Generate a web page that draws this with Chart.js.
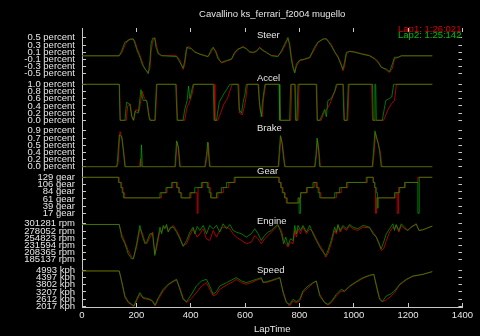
<!DOCTYPE html>
<html>
<head>
<meta charset="utf-8">
<script src="https://cdn.jsdelivr.net/npm/chart.js@4.4.0/dist/chart.umd.min.js"></script>
<style>
  html, body { margin: 0; padding: 0; background: #000; }
  canvas { display: block; }
</style>
</head>
<body>
<canvas id="lapChart" width="480" height="336"></canvas>
<script>
const chartTitle = 'Cavallino ks_ferrari_f2004 mugello';
const lapNames = ['Lap1: 1:26:021', 'Lap2: 1:25:142'];
const panelNames = ['Steer', 'Accel', 'Brake', 'Gear', 'Engine', 'Speed'];
const xTicks = [0, 200, 400, 600, 800, 1000, 1200, 1400];

// y ticks / labels per panel
const steerTicks = [-0.5, -0.3, -0.1, 0.1, 0.3, 0.5];
const steerLabels = ['-0.5 percent', '-0.3 percent', '-0.1 percent', '0.1 percent', '0.3 percent', '0.5 percent'];
const accelTicks = [0, 0.2, 0.4, 0.6, 0.8, 1.0];
const accelLabels = ['0.0 percent', '0.2 percent', '0.4 percent', '0.6 percent', '0.8 percent', '1.0 percent'];
const brakeTicks = [0, 0.18, 0.36, 0.54, 0.72, 0.9];
const brakeLabels = ['0.0 percent', '0.2 percent', '0.4 percent', '0.5 percent', '0.7 percent', '0.9 percent'];
const gearTicks = [17, 39.4, 61.8, 84.2, 106.6, 129];
const gearLabels = ['17 gear', '39 gear', '61 gear', '84 gear', '106 gear', '129 gear'];
const engineTicks = [185137, 208366, 231594, 254823, 278052, 301281];
const engineLabels = ['185137 rpm', '208365 rpm', '231594 rpm', '254823 rpm', '278052 rpm', '301281 rpm'];
const speedTicks = [2017, 2612.2, 3207.4, 3802.6, 4397.8, 4993];
const speedLabels = ['2017 kph', '2612 kph', '3207 kph', '3802 kph', '4397 kph', '4993 kph'];

// steer
const steerTime = [0,137,146,158,170,179,189,195,203,213, 223,232,244,250,254,260,268,272,281,293,
  348,360,372,378,385,391,403,415,434,452, 464,477,483,492,501,513,532,550,562,574,
  593,605,617,630,642,654,666,679,697,721, 734,746,758,764,770,777,783,789,801,819,
  838,856,868,887,899,917,930,942,954,960, 966,973,985,1003,1028,1058,1077,1089,1101,1120,
  1132,1142,1150,1163,1175,1289];
const steerLap1 = [0,0,0.08,0.3,0.45,0.45,0.46,0.4,0.2,0.02, -0.2,-0.38,-0.46,-0.35,0.1,0.4,0.5,0.35,0.08,0.01,
  0,-0.12,-0.38,-0.25,0.15,0.26,0.2,0.12,0.04,0.01, -0.02,0.12,0.22,0.15,-0.04,-0.2,-0.15,-0.1,0.06,0.17,
  0.26,0.2,0.12,0.08,0.12,0.24,0.16,0.08,0.01,-0.01, 0.1,0.28,0.47,0.36,0.02,-0.3,-0.45,-0.3,-0.14,-0.1,
  -0.06,0.18,0.36,0.46,0.48,0.32,0.12,-0.02,-0.22,-0.42, -0.3,0.05,0.13,0.11,0.06,0.01,-0.07,-0.15,-0.3,-0.4,
  -0.46,-0.35,-0.08,-0.05,0,0];
const steerLap2 = [0,0,0.14,0.38,0.42,0.47,0.47,0.33,0.14,-0.04, -0.27,-0.36,-0.5,-0.14,0.33,0.49,0.49,0.24,0.05,0,
  -0.02,-0.18,-0.34,-0.14,0.24,0.22,0.19,0.1,0.05,0, -0.02,0.19,0.24,0.1,-0.09,-0.18,-0.13,-0.09,0.1,0.19,
  0.24,0.19,0.1,0.1,0.14,0.22,0.14,0.1,0,-0.02, 0.14,0.33,0.51,0.28,-0.09,-0.36,-0.48,-0.23,-0.12,-0.09,
  -0.04,0.24,0.38,0.47,0.47,0.28,0.1,-0.04,-0.27,-0.37, -0.18,0.1,0.12,0.1,0.05,0,-0.09,-0.18,-0.32,-0.37,
  -0.44,-0.23,-0.04,-0.04,0,0];

// accel
const accelTime1 = [0,138,141,163,168,178,184,191,198,210, 222,230,240,248,252,270,276,347,352,378,
  386,395,404,412,486,489,500,510,522,535, 548,553,577,580,590,598,603,609,650,655,
  663,668,676,727,731,768,772,785,788,795, 799,864,867,880,890,900,912,925,940,962,
  966,978,983,1066,1069,1110,1118,1126,1138,1150, 1157,1289];
const accelLap1 = [1,1,0,0,0.4,0.45,0.1,0,0.3,0.25, 0.8,0.6,0.5,0.1,0,0,1,1,0,0,
  0.35,0.5,0.7,1,1,0,0,0.2,0.45,0.6, 0.9,1,1,0.2,0.15,0.4,0.6,1,1,0.3,
  0.1,0.6,1,1,0,0,1,1,0,0, 1,1,0,0,0.2,0.3,0.45,0.7,1,1,
  0,0,1,1,0,0,0.15,0.3,0.45,0.55, 1,1];
const accelTime2 = [0,137,140,158,164,176,183,189,195,207, 217,225,238,246,250,268,274,345,350,372,
  378,387,392,397,409,483,486,495,505,519, 532,544,574,578,587,593,599,605,648,652,
  660,664,673,725,728,764,768,783,786,791, 795,862,865,875,881,893,899,905,917,930,
  936,960,964,975,980,1069,1072,1076,1078,1081, 1083,1105,1112,1118,1130,1140,1147,1289];
const accelLap2 = [1,1,0,0,0.5,0.45,0.1,0,0.25,0.2, 0.85,0.55,0.55,0.1,0,0,1,1,0,0,
  0.3,0.55,0.95,0.6,1,1,0,0,0.5,0.7, 0.85,1,1,0.3,0.2,0.5,0.7,1,1,0.55,
  0.1,0.5,1,1,0,0,1,1,0,0, 1,1,0,0,0.1,0.3,0.1,0.55,0.6,0.8,
  1,1,0,0,1,1,0,0,1,1, 0,0,0.3,0.55,0.6,0.65,1,1];

// brake
const brakeTime1 = [0,129,133,140,148,154,160,212,215,218, 344,350,356,362,454,460,465,469,472,724,
  728,732,738,744,748,858,863,867,873,877, 1070,1075,1080,1086,1092,1098,1104,1289];
const brakeLap1 = [0,0,0.1,0.88,0.7,0.35,0,0,0.2,0, 0,0.62,0.45,0,0,0.25,0.6,0.2,0,0,
  0.35,0.75,0.55,0.2,0,0,0.3,0.68,0.35,0, 0,0.35,0.85,0.7,0.55,0.35,0,0];
const brakeTime2 = [0,127,130,137,146,152,158,216,219,222, 342,348,354,360,452,458,463,467,470,722,
  725,730,736,742,746,856,861,865,871,875, 1068,1073,1078,1083,1089,1095,1101,1289];
const brakeLap2 = [0,0,0.1,0.8,0.75,0.4,0,0,0.55,0, 0,0.65,0.5,0,0,0.3,0.62,0.2,0,0,
  0.3,0.78,0.6,0.2,0,0,0.3,0.72,0.4,0, 0,0.4,0.9,0.75,0.6,0.4,0,0];

// gear (value holds until next change)
const gearTime1 = [0,137,146,151,156,292,313,334,352,359, 367,401,424,427,444,465,472,477,500,520,
  540,564,727,734,740,748,756,800,806,830, 855,866,873,879,936,954,978,1050,1073,1078,
  1080,1084,1155,1160,1165,1190,1236,1289];
const gearLap1 = [129,113,97,81,65,81,97,113,97,81, 65,81,17,97,113,97,81,65,81,97,
  113,129,113,97,81,65,49,65,81,97, 113,97,81,65,81,97,113,129,113,97,
  17,65,81,17,97,113,129,129];
const gearTime2 = [0,134,143,148,153,287,309,330,348,356, 364,397,415,440,461,468,473,495,513,532,
  560,724,731,737,745,752,795,799,804,826, 850,862,869,875,930,948,973,1046,1071,1077,
  1083,1087,1090,1150,1169,1187,1236,1241,1289];
const gearLap2 = [129,113,97,81,65,81,97,113,97,81, 65,81,97,113,97,81,65,81,97,113,
  129,113,97,81,65,49,65,17,81,97, 113,97,81,65,81,97,113,129,113,97,
  81,33,65,81,97,113,17,129,129];

// engine
const engineTime = [0,137,146,158,170,183,189,201,213,223, 232,238,250,260,268,274,287,293,299,305,
  311,317,326,336,348,360,372,385,397,409, 415,424,434,446,458,470,483,495,507,519,
  532,544,556,568,587,605,623,636,648,660, 672,685,697,709,721,734,742,750,758,767,
  777,783,789,795,804,813,826,838,850,862, 875,887,897,905,917,930,936,942,950,960,
  973,985,997,1015,1034,1058,1071,1083,1095,1101, 1110,1120,1132,1144,1150,1156,1166,1175,1187,1199,
  1211,1230,1240,1254,1273,1289];
const engineLap1 = [299100,299100,268000,242000,215000,193000,188400,226000,285000,269000,
  242000,236800,258300,274400,204500,220600,279800,274400,290500,290500,
  295900,279800,285200,295900,279800,258300,231400,236800,263600,285200,
  274400,258300,269000,285200,252900,247500,279800,258300,279800,290500,
  290500,285200,269000,258300,247500,236800,242100,263600,252900,236800,
  252900,263600,274400,285200,295900,279800,247500,236800,226000,242100,
  236800,279800,258300,285200,269000,290500,269000,285200,274400,252900,
  231400,215200,193700,204500,236800,279800,269000,295900,274400,290500,
  279800,295900,285200,279800,290500,288400,274400,258300,236800,215200,
  220600,247500,274400,290500,285200,295900,274400,295900,285200,279800,
  290500,299100,279800,281900,288400,293800];
const engineLap2 = [299100,299100,258300,236800,204500,188400,188400,236800,295900,258300,
  236800,242100,269000,269000,199100,231400,290500,269000,295900,285200,
  299100,274400,290500,290500,274400,252900,228200,247500,274400,290500,
  269000,292700,279800,295900,269000,295900,285200,295900,274400,301300,
  285200,299100,279800,274400,269000,258300,269000,285200,269000,247500,
  263600,274400,279800,290500,299100,269000,236800,258300,231400,252900,
  247500,295900,269000,295900,279800,295900,274400,295900,269000,247500,
  226000,209900,199100,215200,247500,290500,274400,299100,279800,295900,
  285200,299100,290500,285200,295900,290500,269000,258300,231400,220600,
  242100,269000,285200,301300,279800,299100,279800,301300,290500,279800,
  290500,301300,279800,281900,288400,293800];

// speed
const speedTime = [0,137,146,158,170,183,191,201,213,225, 238,250,260,269,281,299,317,336,348,360,
  372,385,403,421,440,458,470,483,495,507, 532,556,568,587,605,623,642,660,666,679,
  697,715,728,740,752,764,777,789,801,813, 832,850,862,875,893,905,917,936,954,966,
  985,1009,1034,1058,1074,1083,1095,1105,1120,1138, 1150,1169,1193,1218,1255,1289];
const speedLap1 = [4938,4938,4000,2733,2320,2127,2017,2458,3009,2678, 2595,2540,2402,2044,2595,3284,3780,4056,4194,3560,
  2733,2320,2678,3146,3698,3973,3422,2871,3009,3422, 3780,4056,4249,3973,3836,3973,4166,4304,4056,3973,
  4111,4249,4387,3284,2402,2044,2458,2320,2458,3146, 3560,3918,4111,3009,2320,2127,2320,2871,3284,3229,
  3643,4000,4332,4552,4662,3836,2733,2402,2540,2871, 3146,3780,4194,4497,4662,4883];
const speedLap2 = [4938,4938,4111,2871,2402,2182,2044,2595,3146,2733, 2678,2595,2458,2127,2733,3422,3836,4111,4249,3422,
  2595,2402,3009,3698,4111,4249,3698,3009,3229,3698, 3973,4249,4387,4111,3973,4111,4249,4387,3973,4056,
  4166,4304,4387,3146,2320,2182,2595,2402,2595,3284, 3698,3973,4111,2871,2320,2182,2402,3009,3422,3284,
  3698,4056,4387,4580,4662,3698,2595,2402,2871,3064, 3284,3836,4249,4524,4662,4883];

const FONT = '"Liberation Sans", Arial, sans-serif';
const TEXT = '#e6e6e6';
const AXIS = '#c8c8c8';
const RED = 'rgba(210,0,0,0.8)';
const GREEN = 'rgba(0,180,0,0.65)';

Chart.defaults.font.family = FONT;
Chart.defaults.font.size = 9.5;
Chart.defaults.color = TEXT;

const panels = [
  {id: 'ySteer', name: panelNames[0], ticks: steerTicks, labels: steerLabels, dy: 10,
   lap1: [steerTime, steerLap1], lap2: [steerTime, steerLap2]},
  {id: 'yAccel', name: panelNames[1], ticks: accelTicks, labels: accelLabels, dy: 6.5,
   lap1: [accelTime1, accelLap1], lap2: [accelTime2, accelLap2]},
  {id: 'yBrake', name: panelNames[2], ticks: brakeTicks, labels: brakeLabels, dy: 9.5,
   lap1: [brakeTime1, brakeLap1], lap2: [brakeTime2, brakeLap2]},
  {id: 'yGear', name: panelNames[3], ticks: gearTicks, labels: gearLabels, dy: 6.5, stepped: 'before',
   lap1: [gearTime1, gearLap1], lap2: [gearTime2, gearLap2]},
  {id: 'yEngine', name: panelNames[4], ticks: engineTicks, labels: engineLabels, dy: 9.5,
   lap1: [engineTime, engineLap1], lap2: [engineTime, engineLap2]},
  {id: 'ySpeed', name: panelNames[5], ticks: speedTicks, labels: speedLabels, dy: 12,
   lap1: [speedTime, speedLap1], lap2: [speedTime, speedLap2]}
];

const pts = (t, v) => t.map((x, i) => ({x: x, y: v[i]}));

const scales = {
  x: {
    type: 'linear', position: 'bottom', min: 0, max: 1400,
    afterBuildTicks: a => { a.ticks = xTicks.map(v => ({value: v})); },
    afterFit: s => { s.height = 29; },
    ticks: {autoSkip: false, maxRotation: 0, padding: 7, callback: v => String(v)},
    grid: {drawOnChartArea: false, tickLength: -4, color: AXIS},
    border: {color: AXIS},
    title: {display: true, text: 'LapTime', color: TEXT, padding: {top: 0, bottom: 1}}
  },
  xTop: {
    type: 'linear', position: 'top', min: 0, max: 1400,
    afterBuildTicks: a => { a.ticks = xTicks.map(v => ({value: v})); },
    afterFit: s => { s.height = 0; },
    ticks: {display: false},
    grid: {drawOnChartArea: false, tickLength: -4, color: AXIS},
    border: {display: false}
  }
};

const datasets = [];
panels.forEach((p, i) => {
  const lo = p.ticks[0];
  const r = p.ticks[p.ticks.length - 1] - lo;
  const min = lo - r * 0.7 / 36;
  const max = lo + r * 45.8 / 36;
  const setTicks = a => { a.ticks = p.ticks.map(v => ({value: v})); };
  scales[p.id] = {
    type: 'linear', position: 'left', stack: 'left', stackWeight: 1, weight: panels.length - i,
    min: min, max: max,
    afterBuildTicks: setTicks,
    afterFit: s => { s.width = 82; },
    ticks: {autoSkip: false, padding: 11, callback: (v, k) => p.labels[k]},
    grid: {drawOnChartArea: false, tickLength: -4, color: AXIS},
    border: {color: AXIS}
  };
  scales[p.id + 'R'] = {
    type: 'linear', position: 'right', stack: 'right', stackWeight: 1, weight: i,
    min: min, max: max,
    afterBuildTicks: setTicks,
    afterFit: s => { s.width = 17; },
    ticks: {display: false},
    grid: {drawOnChartArea: false, tickLength: -4, color: AXIS},
    border: {display: false}
  };
  datasets.push({
    label: lapNames[0], data: pts(p.lap1[0], p.lap1[1]), xAxisID: 'x', yAxisID: p.id,
    borderColor: RED, borderWidth: 1, pointRadius: 0, tension: 0, stepped: p.stepped || false, order: 1
  });
  datasets.push({
    label: lapNames[1], data: pts(p.lap2[0], p.lap2[1]), xAxisID: 'x', yAxisID: p.id,
    borderColor: GREEN, borderWidth: 1, pointRadius: 0, tension: 0, stepped: p.stepped || false, order: 0
  });
});

const overlayText = {
  id: 'overlayText',
  afterDraw(chart) {
    const {ctx, chartArea} = chart;
    ctx.save();
    ctx.font = '9.5px ' + FONT;
    ctx.textBaseline = 'alphabetic';
    ctx.fillStyle = TEXT;
    ctx.textAlign = 'center';
    ctx.fillText(chartTitle, (chartArea.left + chartArea.right) / 2, 17);
    ctx.textAlign = 'left';
    panels.forEach(p => {
      const s = chart.scales[p.id];
      ctx.fillText(p.name, chartArea.left + 175, s.top + p.dy);
    });
    ctx.textAlign = 'right';
    ctx.fillStyle = '#e00000';
    ctx.fillText(lapNames[0], chartArea.right - 1, 31.5);
    ctx.fillStyle = '#00c000';
    ctx.fillText(lapNames[1], chartArea.right - 1, 37.5);
    ctx.restore();
  }
};

new Chart(document.getElementById('lapChart'), {
  type: 'line',
  data: {datasets: datasets},
  options: {
    responsive: false,
    animation: false,
    devicePixelRatio: 1,
    layout: {padding: {top: 28, left: 0, right: 0, bottom: 0}},
    plugins: {legend: {display: false}, tooltip: {enabled: false}},
    scales: scales
  },
  plugins: [overlayText]
});
</script>
</body>
</html>
